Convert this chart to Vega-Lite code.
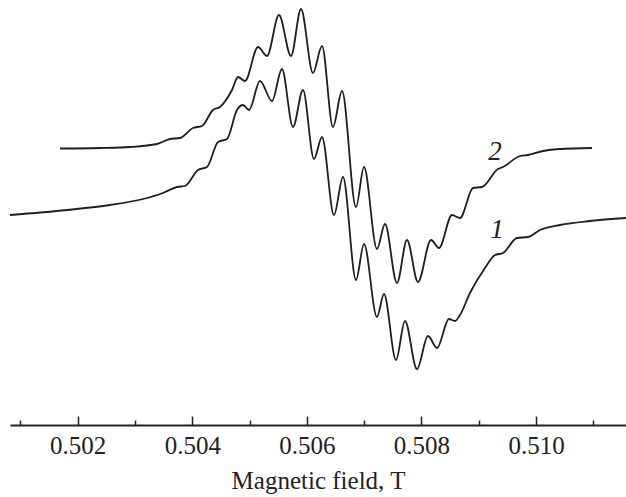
{
  "$schema": "https://vega.github.io/schema/vega-lite/v6.json",
  "width": 616,
  "height": 425,
  "autosize": {"type": "none"},
  "padding": {"left": 10, "top": 0, "right": 0, "bottom": 72},
  "background": "white",
  "config": {"view": {"stroke": null}},
  "datasets": {
    "spectra": [
      {"series": "1", "field": 0.500819, "signal": 210},
      {"series": "1", "field": 0.501813, "signal": 215},
      {"series": "1", "field": 0.502564, "signal": 220},
      {"series": "1", "field": 0.503140, "signal": 226},
      {"series": "1", "field": 0.503489, "signal": 232},
      {"series": "1", "field": 0.503733, "signal": 238},
      {"series": "1", "field": 0.503873, "signal": 239},
      {"series": "1", "field": 0.504099, "signal": 255},
      {"series": "1", "field": 0.504257, "signal": 258},
      {"series": "1", "field": 0.504449, "signal": 283},
      {"series": "1", "field": 0.504606, "signal": 286},
      {"series": "1", "field": 0.504780, "signal": 315},
      {"series": "1", "field": 0.504885, "signal": 320},
      {"series": "1", "field": 0.504990, "signal": 315},
      {"series": "1", "field": 0.505182, "signal": 344},
      {"series": "1", "field": 0.505391, "signal": 324},
      {"series": "1", "field": 0.505565, "signal": 356},
      {"series": "1", "field": 0.505757, "signal": 298},
      {"series": "1", "field": 0.505932, "signal": 335},
      {"series": "1", "field": 0.506124, "signal": 266},
      {"series": "1", "field": 0.506264, "signal": 288},
      {"series": "1", "field": 0.506473, "signal": 210},
      {"series": "1", "field": 0.506630, "signal": 248},
      {"series": "1", "field": 0.506857, "signal": 145},
      {"series": "1", "field": 0.506997, "signal": 181},
      {"series": "1", "field": 0.507223, "signal": 108},
      {"series": "1", "field": 0.507346, "signal": 131},
      {"series": "1", "field": 0.507555, "signal": 65},
      {"series": "1", "field": 0.507712, "signal": 104},
      {"series": "1", "field": 0.507921, "signal": 56},
      {"series": "1", "field": 0.508113, "signal": 89},
      {"series": "1", "field": 0.508271, "signal": 77},
      {"series": "1", "field": 0.508480, "signal": 106},
      {"series": "1", "field": 0.508585, "signal": 104},
      {"series": "1", "field": 0.508672, "signal": 110},
      {"series": "1", "field": 0.508846, "signal": 132},
      {"series": "1", "field": 0.509108, "signal": 157},
      {"series": "1", "field": 0.509283, "signal": 170},
      {"series": "1", "field": 0.509422, "signal": 172},
      {"series": "1", "field": 0.509667, "signal": 187},
      {"series": "1", "field": 0.509859, "signal": 188},
      {"series": "1", "field": 0.510068, "signal": 195},
      {"series": "1", "field": 0.510417, "signal": 200},
      {"series": "1", "field": 0.510941, "signal": 204},
      {"series": "1", "field": 0.511569, "signal": 207},
      {"series": "2", "field": 0.501691, "signal": 276.5},
      {"series": "2", "field": 0.502389, "signal": 277},
      {"series": "2", "field": 0.502913, "signal": 278},
      {"series": "2", "field": 0.503384, "signal": 281},
      {"series": "2", "field": 0.503611, "signal": 286},
      {"series": "2", "field": 0.503785, "signal": 287},
      {"series": "2", "field": 0.504012, "signal": 297},
      {"series": "2", "field": 0.504169, "signal": 299},
      {"series": "2", "field": 0.504361, "signal": 315},
      {"series": "2", "field": 0.504483, "signal": 318},
      {"series": "2", "field": 0.504693, "signal": 335},
      {"series": "2", "field": 0.504798, "signal": 348},
      {"series": "2", "field": 0.504920, "signal": 344},
      {"series": "2", "field": 0.505147, "signal": 378},
      {"series": "2", "field": 0.505304, "signal": 369},
      {"series": "2", "field": 0.505513, "signal": 410},
      {"series": "2", "field": 0.505723, "signal": 369},
      {"series": "2", "field": 0.505897, "signal": 416},
      {"series": "2", "field": 0.506106, "signal": 352},
      {"series": "2", "field": 0.506264, "signal": 379},
      {"series": "2", "field": 0.506455, "signal": 298},
      {"series": "2", "field": 0.506613, "signal": 334},
      {"series": "2", "field": 0.506857, "signal": 218},
      {"series": "2", "field": 0.506997, "signal": 258},
      {"series": "2", "field": 0.507223, "signal": 176},
      {"series": "2", "field": 0.507363, "signal": 201},
      {"series": "2", "field": 0.507572, "signal": 142},
      {"series": "2", "field": 0.507747, "signal": 185},
      {"series": "2", "field": 0.507939, "signal": 143},
      {"series": "2", "field": 0.508166, "signal": 185},
      {"series": "2", "field": 0.508305, "signal": 177},
      {"series": "2", "field": 0.508532, "signal": 210},
      {"series": "2", "field": 0.508672, "signal": 207},
      {"series": "2", "field": 0.508899, "signal": 237},
      {"series": "2", "field": 0.509056, "signal": 238},
      {"series": "2", "field": 0.509335, "signal": 256},
      {"series": "2", "field": 0.509422, "signal": 258},
      {"series": "2", "field": 0.509719, "signal": 269},
      {"series": "2", "field": 0.509859, "signal": 270},
      {"series": "2", "field": 0.510120, "signal": 274},
      {"series": "2", "field": 0.510417, "signal": 276},
      {"series": "2", "field": 0.510976, "signal": 277}
    ],
    "labels": [
      {"label": "2", "field": 0.509283, "signal": 273},
      {"label": "1", "field": 0.509318, "signal": 195}
    ]
  },
  "layer": [
    {
      "data": {"name": "spectra"},
      "mark": {"type": "line", "interpolate": "monotone", "color": "#1e1e1e", "strokeWidth": 1.8},
      "encoding": {
        "x": {
          "field": "field", "type": "quantitative",
          "scale": {"domain": [0.500819, 0.511569], "nice": false, "zero": false},
          "axis": {
            "title": "Magnetic field, T",
            "values": [0.501, 0.502, 0.503, 0.504, 0.505, 0.506, 0.507, 0.508, 0.509, 0.510, 0.511],
            "labelExpr": "round(datum.value*1000) % 2 == 0 ? format(datum.value, '.3f') : ''",
            "tickSize": {"condition": {"test": "round(datum.value*1000) % 2 == 0", "value": -9}, "value": -5},
            "tickColor": "#222",
            "tickWidth": 1.5,
            "domainColor": "#222",
            "domainWidth": 2,
            "grid": false,
            "labelFont": "Times New Roman, Liberation Serif, serif",
            "labelFontSize": 25,
            "labelColor": "#222",
            "labelPadding": 17,
            "labelFlush": false,
            "labelOverlap": false,
            "titleFont": "Times New Roman, Liberation Serif, serif",
            "titleFontSize": 25,
            "titleFontWeight": "normal",
            "titleColor": "#222",
            "titlePadding": 6
          }
        },
        "y": {
          "field": "signal", "type": "quantitative",
          "scale": {"domain": [0, 425], "nice": false, "zero": false},
          "axis": null
        },
        "detail": {"field": "series"}
      }
    },
    {
      "data": {"name": "labels"},
      "mark": {"type": "text", "font": "Times New Roman, Liberation Serif, serif", "fontStyle": "italic", "fontSize": 27, "color": "#222", "align": "center", "baseline": "middle"},
      "encoding": {
        "x": {"field": "field", "type": "quantitative"},
        "y": {"field": "signal", "type": "quantitative"},
        "text": {"field": "label"}
      }
    }
  ]
}
